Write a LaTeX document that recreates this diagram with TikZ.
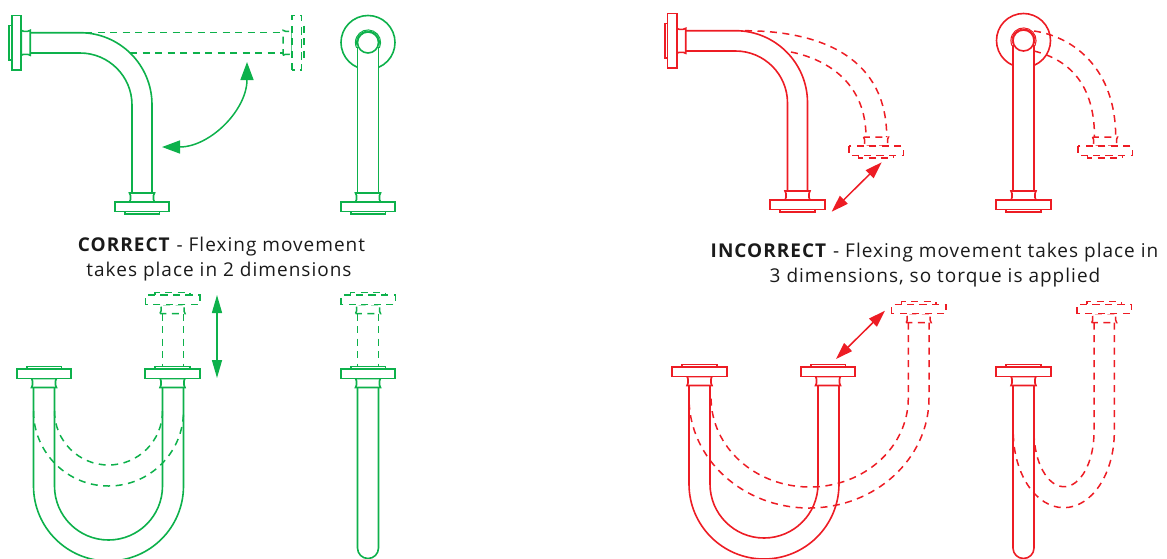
\documentclass[tikz,border=0pt]{standalone}
\usepackage{fontspec}
\setmainfont[LetterSpace=5.3]{Open Sans}
\definecolor{gr}{HTML}{0DB14B}
\definecolor{rd}{HTML}{ED1C24}
\definecolor{tx}{HTML}{1A1A1A}
\usetikzlibrary{arrows.meta}
\tikzset{
  pipeline/.style={line width=1.6pt,line join=miter},
  ghost/.style={pipeline,line width=1.5pt,dash pattern=on 7pt off 5.5pt},
  tipdown/.style={x={(1pt,0pt)},y={(0pt,-1pt)}},
  tipup/.style={x={(1pt,0pt)},y={(0pt,1pt)}},
  tipleft/.style={x={(0pt,1pt)},y={(-1pt,0pt)}},
  tipright/.style={x={(0pt,1pt)},y={(1pt,0pt)}},
  bigarrow/.style={line width=1.5pt,{Triangle[length=18pt,width=13pt]}-{Triangle[length=18pt,width=13pt]}},
  slimarrow/.style={line width=1.5pt,{Triangle[length=18pt,width=10pt]}-{Triangle[length=18pt,width=10pt]}},
  redarrow/.style={line width=1.5pt,{Triangle[length=17pt,width=11pt]}-{Triangle[length=17pt,width=11pt]}},
  caption/.style={text=tx,font=\fontsize{19}{22}\selectfont,inner sep=0pt,anchor=center}
}
% #1 style, #2 position, #3 orientation
\newcommand\flangeunit[3]{%
  \begin{scope}[shift={#2},#3]
    \draw[#1] (-12.5,0) -- (-11.5,2.5) -- (-11.5,6.5) -- (-12.5,9) -- (12.5,9) -- (11.5,6.5) -- (11.5,2.5) -- (12.5,0) -- cycle;
    \draw[#1,fill=white] (-27.25,9) rectangle (27.25,18.3);
    \draw[#1] (-17.3,18.3) rectangle (17.3,21);
  \end{scope}}
\begin{document}
\begin{tikzpicture}[x=1pt,y=-1pt]
\clip (0,0) rectangle (1167,558);
% ================= GREEN =================
\begin{scope}[color=gr]
  % top left elbow
  \draw[ghost] (85,32.7) -- (283,32.7);
  \draw[ghost] (130,53) -- (283,53);
  \draw[pipeline] (30,32.7) -- (80,32.7) arc (-90:0:72) -- (152,193);
  \draw[pipeline] (30,53) -- (80,53) arc (-90:0:52) -- (132,193);
  \flangeunit{pipeline}{(30.2,42.8)}{tipleft}
  \flangeunit{pipeline}{(142,193)}{tipdown}
  \flangeunit{ghost}{(283,42.8)}{tipright}
  \coordinate (ga1) at (247,62);
  \coordinate (ga2) at (162,147);
  \draw[bigarrow,color=gr] (ga1) .. controls (247,110) and (210,147) .. (ga2);
  % top side view
  \draw[pipeline] (368,42.5) ++(67.1:27) arc (67.1:-247.1:27);
  \draw[pipeline] (368,42.5) circle (10.5);
  \draw[pipeline,line width=1pt] (368,42.5) ++(25:12.6) arc (25:-205:12.6);
  \draw[pipeline,line width=1pt] (368,42.5) ++(15:11.5) arc (15:-195:11.5);
  \draw[pipeline] (357.5,47) -- (357.5,193) (378.5,47) -- (378.5,193);
  \flangeunit{pipeline}{(368,193)}{tipdown}
  % bottom U
  \draw[ghost] (33.5,411) arc (180:0:75);
  \draw[ghost] (54.5,411) arc (180:0:54);
  \draw[pipeline] (33.5,387.5) -- (33.5,486) arc (180:0:75) -- (183.5,387.5);
  \draw[pipeline] (54.5,387.5) -- (54.5,486) arc (180:0:54) -- (162.5,387.5);
  \flangeunit{pipeline}{(44,387.5)}{tipup}
  \draw[ghost] (162.5,313.5) -- (162.5,366) (183.5,313.5) -- (183.5,366);
  \flangeunit{pipeline}{(172.5,387.5)}{tipup}
  \flangeunit{ghost}{(172.5,313.5)}{tipup}
  \coordinate (ga3) at (217,295);
  \coordinate (ga4) at (217,378);
  \draw[slimarrow,color=gr] (ga3) -- (ga4);
  % bottom side view
  \draw[pipeline] (357.5,387.5) -- (357.5,548) arc (180:0:10.5) -- (378.5,387.5);
  \draw[ghost] (357.5,313.5) -- (357.5,366) (378.5,313.5) -- (378.5,366);
  \flangeunit{pipeline}{(368,387.5)}{tipup}
  \flangeunit{ghost}{(368,313.5)}{tipup}
\end{scope}
% ================= RED =================
\begin{scope}[color=rd]
  % top left elbow
  \draw[ghost] (745,30.7) .. controls (825,31) and (886.7,60) .. (886.7,137);
  \draw[ghost] (791,52) .. controls (830,60) and (866,85) .. (866,137);
  \draw[pipeline] (685.5,30.7) -- (735.5,30.7) arc (-90:0:72) -- (807.5,191);
  \draw[pipeline] (685.5,51) -- (735.5,51) arc (-90:0:52) -- (787.5,191);
  \flangeunit{pipeline}{(685.7,40.8)}{tipleft}
  \flangeunit{pipeline}{(797.5,191)}{tipdown}
  \flangeunit{ghost}{(876,137)}{tipdown}
  \coordinate (ra1) at (881.7,162.3);
  \coordinate (ra2) at (831.7,211.7);
  \draw[redarrow,color=rd] (ra1) -- (ra2);
  % top side view
  \draw[ghost] (1034,31) .. controls (1075,37) and (1115.7,70) .. (1115.7,137);
  \draw[ghost] (1034,51) .. controls (1070,60) and (1094.5,85) .. (1094.5,137);
  \draw[pipeline] (1023.5,40.5) ++(67.1:27) arc (67.1:-247.1:27);
  \draw[pipeline] (1023.5,40.5) circle (10.5);
  \draw[pipeline,line width=1pt] (1023.5,40.5) ++(25:12.6) arc (25:-205:12.6);
  \draw[pipeline,line width=1pt] (1023.5,40.5) ++(15:11.5) arc (15:-195:11.5);
  \draw[pipeline] (1013,45) -- (1013,191) (1034,45) -- (1034,191);
  \flangeunit{pipeline}{(1023.5,191)}{tipdown}
  \flangeunit{ghost}{(1105,137)}{tipdown}
  % bottom U
  \draw[ghost] (908.3,322.7) -- (908.3,398) arc (0:180:98.6 and 89);
  \draw[ghost] (929,322.7) -- (929,398) arc (0:180:120 and 110);
  \draw[pipeline] (689,385.5) -- (689,484) arc (180:0:75) -- (839,385.5);
  \draw[pipeline] (710,385.5) -- (710,484) arc (180:0:54) -- (818,385.5);
  \flangeunit{pipeline}{(699.5,385.5)}{tipup}
  \flangeunit{pipeline}{(828,385.5)}{tipup}
  \flangeunit{ghost}{(918.7,322.7)}{tipup}
  \coordinate (ra3) at (885,310.7);
  \coordinate (ra4) at (836,359);
  \draw[redarrow,color=rd] (ra3) -- (ra4);
  % bottom side view
  \draw[ghost] (1094,322.7) -- (1094,432) arc (0:180:30 and 54.7);
  \draw[ghost] (1114.3,322.7) -- (1114.3,432) arc (0:180:50.5 and 75.7);
  \draw[pipeline] (1013,385.5) -- (1013,548) arc (180:0:10.5) -- (1034,385.5);
  \flangeunit{pipeline}{(1023.5,385.5)}{tipup}
  \flangeunit{ghost}{(1104.2,322.7)}{tipup}
\end{scope}
% ================= TEXT =================
\node[caption] (c1) at (221.5,246.5) {\textbf{CORRECT} - Flexing movement};
\node[caption] (c2) at (219,271.5) {takes place in 2 dimensions};
\node[caption] (c3) at (934.5,252.5) {\textbf{INCORRECT} - Flexing movement takes place in};
\node[caption] (c4) at (935,277.5) {3 dimensions, so torque is applied};
\end{tikzpicture}
\end{document}
